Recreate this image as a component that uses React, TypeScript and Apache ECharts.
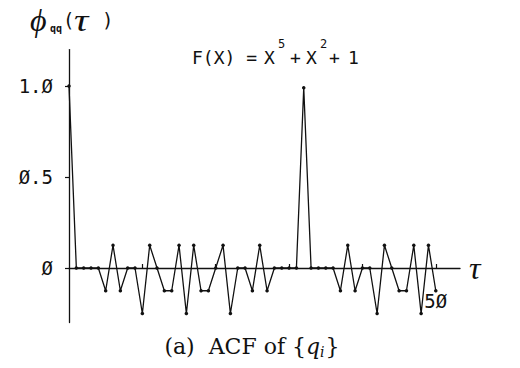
import React, { useEffect, useRef } from "react";
import * as echarts from "echarts";

// ACF values phi_qq(tau) for tau = 0..50
const acfValues: number[] = [
  1, 0, 0, 0, 0, -0.125, 0.125, -0.125, 0, 0,
  -0.25, 0.125, 0, -0.125, -0.125, 0.125, -0.25, 0.125, -0.125, -0.125,
  0, 0.125, -0.25, 0, 0, -0.125, 0.125, -0.125, 0, 0,
  0, 0, 0.99, 0, 0, 0, 0, -0.125, 0.125, -0.125,
  0, 0, -0.25, 0.125, 0, -0.125, -0.125, 0.125, -0.25, 0.125,
  -0.125,
];
const yTickValues = [0, 0.5, 1];
const yTickLabels = ["Ø", "Ø.5", "1.Ø"];
const xTickValues = [10, 20, 30, 40, 50];
const xLabelValues = [50];
const xLabelTexts = ["5Ø"];

const MONO = "'DejaVu Sans Mono', monospace";
const SERIF = "'DejaVu Serif', serif";
const LSERIF = "'Liberation Serif', serif";

function measure(text: string, font: string): number {
  const c = document.createElement("canvas").getContext("2d");
  if (!c) return text.length * 10;
  c.font = font;
  return c.measureText(text).width;
}

export default function App() {
  const ref = useRef<HTMLDivElement>(null);
  useEffect(() => {
    if (!ref.current) return;
    const chart = echarts.init(ref.current, undefined, { renderer: "svg" });
    const data = acfValues.map((v, i) => [i, v]);

    // caption layout
    const capFont = `22px ${SERIF}`;
    const capQFont = `italic 22px ${SERIF}`;
    const capIFont = `italic 14px ${SERIF}`;
    const p1 = "(a)  ACF of {";
    const w1 = measure(p1, capFont);
    const wq = measure("q", capQFont);
    const wi = measure("i", capIFont);
    const wb = measure("}", capFont);
    const total = w1 + wq + wi + 1 + wb;
    const cx = 252;
    const x0 = cx - total / 2;
    const capY = 346;

    chart.setOption({
      animation: false,
      backgroundColor: "#ffffff",
      grid: { left: 69, right: 60, top: 49.6, bottom: 45.4, containLabel: false },
      xAxis: {
        type: "value",
        min: 0,
        max: 53.3,
        position: "bottom",
        offset: -54.6,
        splitLine: { show: false },
        axisLine: { onZero: false, lineStyle: { color: "#111", width: 1.3 } },
        axisTick: {
          show: true,
          customValues: xTickValues,
          length: 4,
          inside: true,
          lineStyle: { color: "#111", width: 1.2 },
        },
        axisLabel: {
          customValues: xLabelValues,
          formatter: (v: number) => xLabelTexts[xLabelValues.indexOf(v)] ?? "",
          fontFamily: MONO,
          fontSize: 19,
          color: "#111",
          margin: 23,
        },
      },
      yAxis: {
        type: "value",
        min: -0.3,
        max: 1.2,
        splitLine: { show: false },
        axisLine: { onZero: false, lineStyle: { color: "#111", width: 1.3 } },
        axisTick: {
          show: true,
          customValues: yTickValues,
          length: 4,
          lineStyle: { color: "#111", width: 1.2 },
        },
        axisLabel: {
          customValues: yTickValues,
          formatter: (v: number) => yTickLabels[yTickValues.indexOf(v)] ?? "",
          fontFamily: MONO,
          fontSize: 19,
          color: "#111",
          margin: 16,
        },
      },
      series: [
        {
          type: "line",
          data,
          symbol: "circle",
          symbolSize: 3.5,
          showSymbol: true,
          lineStyle: { color: "#111", width: 1.3 },
          itemStyle: { color: "#111" },
          z: 3,
        },
      ],
      graphic: [
        { type: "text", x: 30, y: 4, style: { text: "ϕ", font: `italic 32px ${LSERIF}`, fill: "#111" } },
        { type: "text", x: 50, y: 23, style: { text: "qq", font: `bold 10px ${MONO}`, fill: "#111" } },
        { type: "text", x: 63, y: 10, style: { text: "(", font: `19px ${MONO}`, fill: "#111" } },
        { type: "text", x: 74, y: 4, scaleX: 1.25, style: { text: "τ", font: `italic 32px ${LSERIF}`, fill: "#111" } },
        { type: "text", x: 102, y: 10, style: { text: ")", font: `19px ${MONO}`, fill: "#111" } },
        { type: "text", x: 192, y: 48, style: { text: "F(X) =", font: `18px ${MONO}`, fill: "#111" } },
        { type: "text", x: 264, y: 48, style: { text: "X", font: `18px ${MONO}`, fill: "#111" } },
        { type: "text", x: 278, y: 38, style: { text: "5", font: `12px ${MONO}`, fill: "#111" } },
        { type: "text", x: 290, y: 48, style: { text: "+", font: `18px ${MONO}`, fill: "#111" } },
        { type: "text", x: 306, y: 48, style: { text: "X", font: `18px ${MONO}`, fill: "#111" } },
        { type: "text", x: 320, y: 38, style: { text: "2", font: `12px ${MONO}`, fill: "#111" } },
        { type: "text", x: 329, y: 48, style: { text: "+", font: `18px ${MONO}`, fill: "#111" } },
        { type: "text", x: 348, y: 48, style: { text: "1", font: `18px ${MONO}`, fill: "#111" } },
        { type: "text", x: 469, y: 252, style: { text: "τ", font: `italic 32px ${LSERIF}`, fill: "#111" } },
        { type: "text", x: x0, y: capY, style: { text: p1, font: capFont, fill: "#111", textVerticalAlign: "middle" } },
        { type: "text", x: x0 + w1, y: capY, style: { text: "q", font: capQFont, fill: "#111", textVerticalAlign: "middle" } },
        { type: "text", x: x0 + w1 + wq, y: capY + 6, style: { text: "i", font: capIFont, fill: "#111", textVerticalAlign: "middle" } },
        { type: "text", x: x0 + w1 + wq + wi + 1, y: capY, style: { text: "}", font: capFont, fill: "#111", textVerticalAlign: "middle" } },
      ],
    });
    return () => chart.dispose();
  }, []);
  return (
    <div
      ref={ref}
      style={{ position: "fixed", left: 0, top: 0, width: 520, height: 368, background: "#fff" }}
    />
  );
}
